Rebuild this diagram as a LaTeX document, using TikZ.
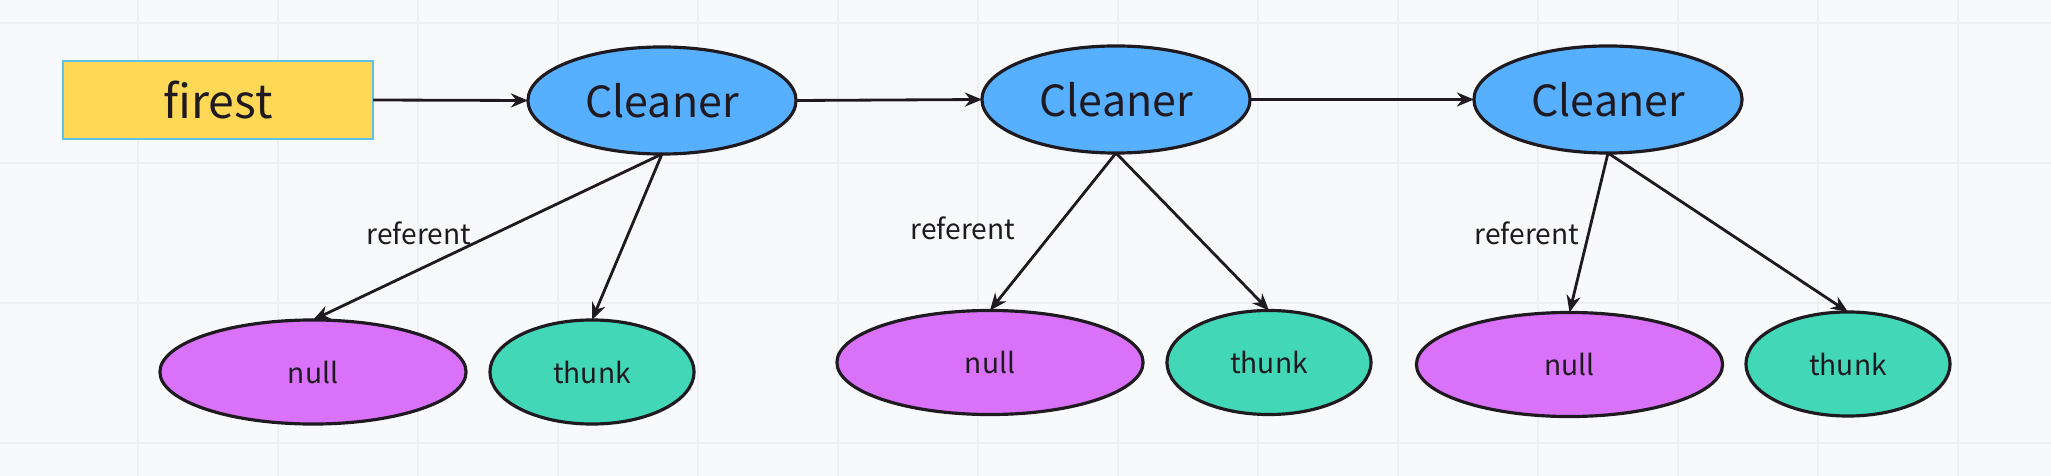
\documentclass[tikz,border=0pt]{standalone}
\usepackage{fontspec}
\setmainfont{Noto Sans CJK SC}
\usetikzlibrary{shapes.geometric,arrows.meta}
\definecolor{bgc}{HTML}{F8F9FB}
\definecolor{gridc}{HTML}{EDEFF2}
\definecolor{ink}{HTML}{1E1A20}
\definecolor{yel}{HTML}{FFD955}
\definecolor{yelb}{HTML}{5CC3EC}
\definecolor{blu}{HTML}{57AFFF}
\definecolor{pur}{HTML}{D972F8}
\definecolor{grn}{HTML}{41D7B7}
\tikzset{
  startbox/.style={rectangle, draw=yelb, line width=0.7pt, fill=yel, minimum width=3.1cm, minimum height=0.78cm, inner sep=0pt, outer sep=0pt, text=ink, font=\fontsize{13.2}{16}\selectfont},
  cleaner/.style={ellipse, draw=ink, line width=0.9pt, fill=blu, minimum width=2.68cm, minimum height=1.07cm, inner sep=0pt, outer sep=0pt, text=ink, font=\fontsize{12.2}{15}\selectfont},
  nullnode/.style={ellipse, draw=ink, line width=0.9pt, fill=pur, minimum width=3.06cm, minimum height=1.04cm, inner sep=0pt, outer sep=0pt, text=ink, font=\fontsize{8.0}{10}\selectfont},
  thunknode/.style={ellipse, draw=ink, line width=0.9pt, fill=grn, minimum width=2.04cm, minimum height=1.04cm, inner sep=0pt, outer sep=0pt, text=ink, font=\fontsize{8.0}{10}\selectfont},
  lbl/.style={inner sep=0pt, text=ink, font=\fontsize{8.0}{10}\selectfont},
  arr/.style={draw=ink, line width=0.8pt, -{Stealth[length=0.17cm,width=0.14cm]}},
  gridline/.style={draw=gridc, line width=0.55pt}
}
\begin{document}
\begin{tikzpicture}[x=0.01cm,y=-0.01cm]
  \fill[bgc] (0,0) rectangle (2051,476);
  \useasboundingbox (0,0) rectangle (2051,476);
  \foreach \gx in {138,278,...,2000} \draw[gridline] (\gx,0) -- (\gx,476);
  \foreach \gy in {23,163,303,443} \draw[gridline] (0,\gy) -- (2051,\gy);

  \node[startbox] (f) at (218,100) {firest};
  \node[cleaner] (c1) at (662,100.5) {Cleaner};
  \node[cleaner] (c2) at (1116,99.5) {Cleaner};
  \node[cleaner] (c3) at (1608,99.5) {Cleaner};

  \node[nullnode] (n1) at (313,372) {null};
  \node[thunknode] (t1) at (592,372) {thunk};
  \node[nullnode] (n2) at (990,362.5) {null};
  \node[thunknode] (t2) at (1269,362.5) {thunk};
  \node[nullnode] (n3) at (1569.5,364.5) {null};
  \node[thunknode] (t3) at (1848,364) {thunk};

  \node[lbl] (l1) at (419,233) {referent};
  \node[lbl] (l2) at (963,228) {referent};
  \node[lbl] (l3) at (1527,233) {referent};

  \draw[arr] (f.east) -- (c1.west);
  \draw[arr] (c1.east) -- (c2.west);
  \draw[arr] (c2.east) -- (c3.west);

  \draw[arr] (c1.south) -- (n1.north);
  \draw[arr] (c1.south) -- (t1.north);
  \draw[arr] (c2.south) -- (n2.north);
  \draw[arr] (c2.south) -- (t2.north);
  \draw[arr] (c3.south) -- (n3.north);
  \draw[arr] (c3.south) -- (t3.north);
\end{tikzpicture}
\end{document}
